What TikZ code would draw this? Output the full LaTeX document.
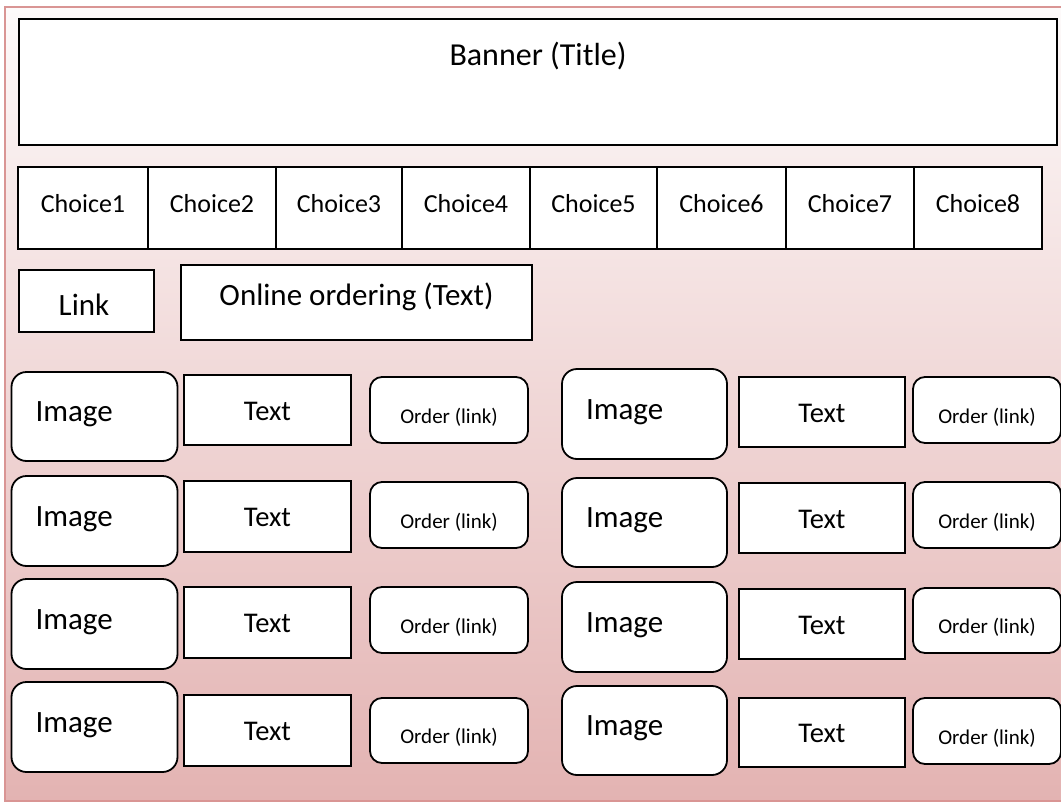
\documentclass[tikz,border=0pt]{standalone}
\usepackage{fontspec}
\setmainfont{Carlito}
\definecolor{framecol}{HTML}{D99594}
\definecolor{bgtop}{HTML}{FDFAFA}
\definecolor{bgbot}{HTML}{E3B3B2}
\newcommand\fsz[1]{\fontsize{#1}{#1}\selectfont}
\tikzset{
  boxbase/.style={draw=black, fill=white, line width=1.8pt, inner sep=0pt, outer sep=0pt, anchor=north west},
  sqbox/.style={boxbase},
  imgbox/.style={boxbase, rounded corners=15pt},
  ordbox/.style={boxbase, rounded corners=12pt},
  lbl/.style={inner sep=0pt, outer sep=0pt, text=black},
}
\newcommand\mkbox[6]{\node[#1, minimum width=#5pt-#3pt, minimum height=#6pt-#4pt] (#2) at (#3,#4) {};}
\newcommand\imgcell[5]{%
  \mkbox{imgbox}{#1}{#2}{#3}{#4}{#5}
  \node[lbl, anchor=base west, font=\fsz{31}] (#1l) at ({#2+24},{#3+0.45*(#5-#3)+9.8}) {Image};}
\newcommand\txtcell[5]{%
  \mkbox{sqbox}{#1}{#2}{#3}{#4}{#5}
  \node[lbl, anchor=base, font=\fsz{28.5}] (#1l) at ({(#2+#4)/2},{#3+0.52*(#5-#3)+9}) {Text};}
\newcommand\ordcell[5]{%
  \mkbox{ordbox}{#1}{#2}{#3}{#4}{#5}
  \node[lbl, anchor=base, font=\fsz{21}] (#1l) at ({(#2+#4)/2},{#3+0.6*(#5-#3)+6.4}) {Order (link)};}
\newcommand\choice[4]{%
  \mkbox{sqbox}{#1}{#2}{167}{#3}{249}
  \node[lbl, anchor=base, font=\fsz{26}] (#1l) at ({(#2+#3)/2},212) {#4};}
\begin{document}
\begin{tikzpicture}[x=1pt,y=-1pt]
\useasboundingbox (0,0) rectangle (1061,803);
% background frame
\fill[top color=bgtop, bottom color=bgbot] (5,7) rectangle (1080,801);
\draw[framecol, line width=2.5pt] (5,7) rectangle (1080,801);
% banner
\mkbox{sqbox}{banner}{19}{19}{1057}{145}
\node[lbl, anchor=base, font=\fsz{32}] (bannert) at (538,65) {Banner (Title)};
% choices
\choice{c1}{18}{148}{Choice1}
\choice{c2}{148}{276}{Choice2}
\choice{c3}{276}{402}{Choice3}
\choice{c4}{402}{530}{Choice4}
\choice{c5}{530}{657}{Choice5}
\choice{c6}{657}{786}{Choice6}
\choice{c7}{786}{914}{Choice7}
\choice{c8}{914}{1042}{Choice8}
% link and online ordering
\mkbox{sqbox}{link}{19}{270}{154}{332}
\node[lbl, anchor=base, font=\fsz{31}] (linkt) at (84,315) {Link};
\mkbox{sqbox}{online}{181}{265}{532}{340}
\node[lbl, anchor=base, font=\fsz{31}] (onlinet) at (356.5,305.5) {Online ordering (Text)};
% row 1
\imgcell{ia}{11.5}{372}{177.5}{461}
\txtcell{ta}{184}{375}{351}{445}
\ordcell{oa}{370}{377}{528}{443}
\imgcell{ib}{562}{369}{727}{459}
\txtcell{tb}{739}{377}{905}{447}
\ordcell{ob}{913}{377}{1061}{443}
% row 2
\imgcell{ic}{11.5}{476}{177.5}{566}
\txtcell{tc}{184}{481}{351}{552}
\ordcell{oc}{370}{482}{528}{548}
\imgcell{id}{562}{478}{727}{567}
\txtcell{td}{739}{483}{905}{553}
\ordcell{od}{913}{482}{1061}{548}
% row 3
\imgcell{ie}{11.5}{579}{177.5}{669}
\txtcell{te}{184}{587}{351}{658}
\ordcell{oe}{370}{587}{528}{653}
\imgcell{if}{562}{582}{727}{672}
\txtcell{tf}{739}{589}{905}{659}
\ordcell{of}{913}{588}{1061}{653}
% row 4
\imgcell{ig}{11.5}{682}{177.5}{772}
\txtcell{tg}{184}{695}{351}{766}
\ordcell{og}{370}{698}{528}{763}
\imgcell{ih}{562}{686}{727}{775}
\txtcell{th}{739}{698}{905}{767}
\ordcell{oh}{913}{698}{1061}{764}
\end{tikzpicture}
\end{document}
